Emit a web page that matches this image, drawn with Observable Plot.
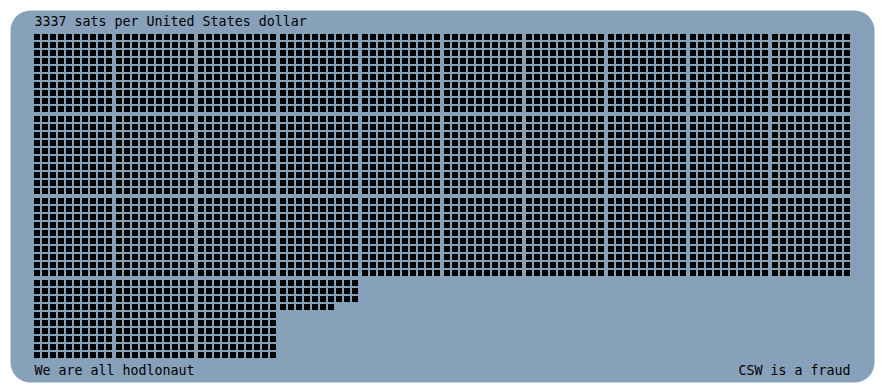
<!DOCTYPE html>
<html>
<head>
<meta charset="utf-8">
<script src="https://cdn.jsdelivr.net/npm/d3@7"></script>
<script src="https://cdn.jsdelivr.net/npm/@observablehq/plot@0.6"></script>
<style>
  html, body { margin: 0; padding: 0; background: #ffffff; }
  #chart svg { display: block; }
</style>
</head>
<body>
<div id="chart"></div>
<script>
// ---- data ----
const satsPerDollar = [3337];
const currencies = ["United States dollar"];
const footerLeft = ["We are all hodlonaut"];
const footerRight = ["CSW is a fraud"];
const squaresPerBlockSide = [10];
const blocksPerRow = [10];

// ---- derived unit layout (one square per sat) ----
const n = satsPerDollar[0];
const side = squaresPerBlockSide[0];
const perBlock = side * side;
const gapUnits = 0.25; // extra gap between blocks, in square-pitch units
const sats = d3.range(n).map(i => {
  const b = Math.floor(i / perBlock), w = i % perBlock;
  const c = (b % blocksPerRow[0]) * side + (w % side);
  const r = Math.floor(b / blocksPerRow[0]) * side + Math.floor(w / side);
  const ux = c + gapUnits * Math.floor(c / side);
  const uy = r + gapUnits * Math.floor(r / side);
  return {i, x1: ux, x2: ux + 0.75, y1: uy, y2: uy + 0.75};
});

const bg = "#88a1bb";
const font = "DejaVu Sans Mono, monospace";

const chart = Plot.plot({
  width: 884,
  height: 392,
  margin: 10,
  style: {background: "transparent", fontFamily: font, fontSize: "13.3px", color: "#000"},
  x: {domain: [0, 102], range: [34, 850], axis: null},
  y: {domain: [0, 40], range: [34, 354], axis: null},
  marks: [
    Plot.frame({fill: bg, stroke: null, rx: 20}),
    Plot.rect(sats, {x1: "x1", x2: "x2", y1: "y1", y2: "y2", fill: "#000", inset: 0}),
    Plot.text([`${satsPerDollar[0]} sats per ${currencies[0]}`], {
      frameAnchor: "top-left", textAnchor: "start", lineAnchor: "bottom",
      dx: 24, dy: 15.7, fill: "#000", fontSize: 13.3, fontFamily: font
    }),
    Plot.text(footerLeft, {
      frameAnchor: "bottom-left", textAnchor: "start", lineAnchor: "bottom",
      dx: 24, dy: -7.6, fill: "#000", fontSize: 13.3, fontFamily: font
    }),
    Plot.text(footerRight, {
      frameAnchor: "bottom-right", textAnchor: "end", lineAnchor: "bottom",
      dx: -24, dy: -7.6, fill: "#000", fontSize: 13.3, fontFamily: font
    })
  ]
});
document.getElementById("chart").appendChild(chart);
</script>
</body>
</html>
